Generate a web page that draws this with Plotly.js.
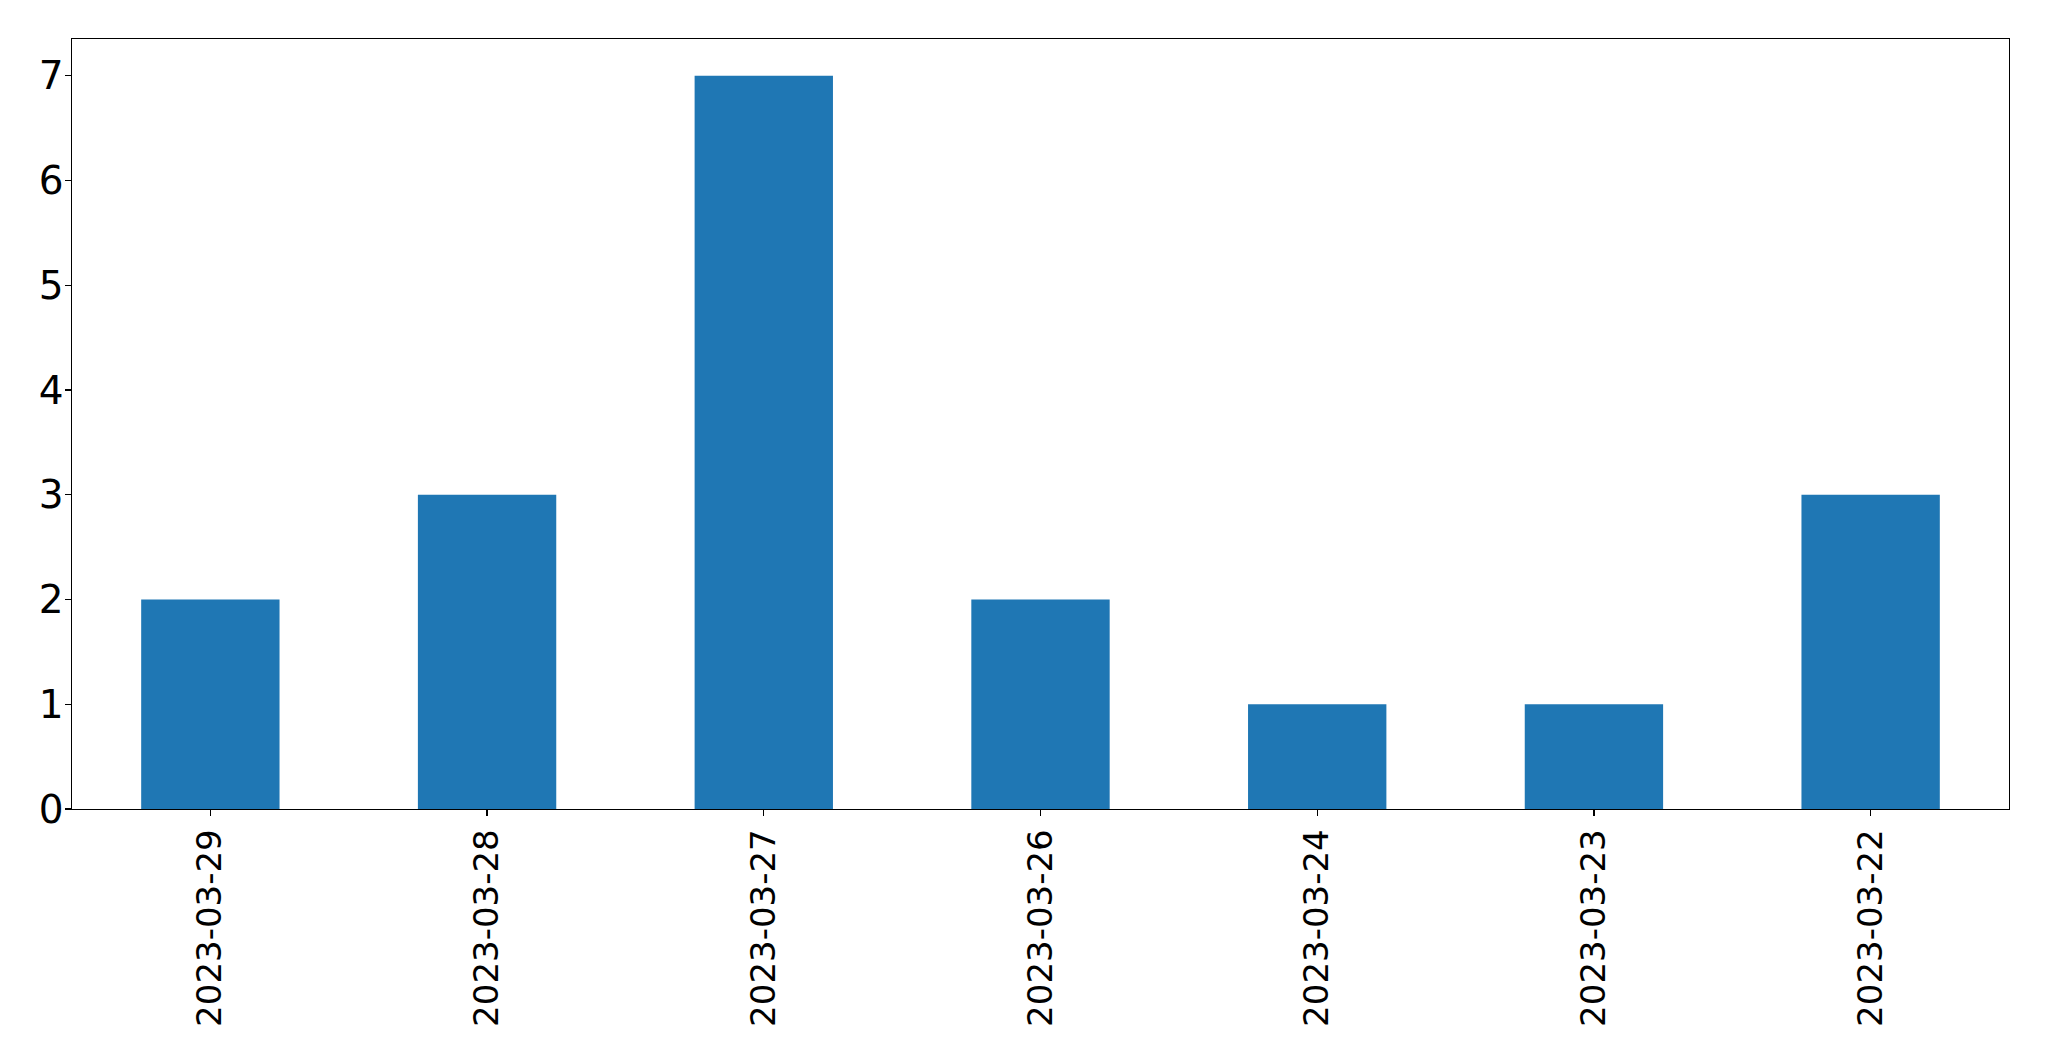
<!DOCTYPE html>
<html>
<head>
<meta charset="utf-8">
<script src="https://cdn.plot.ly/plotly-3.0.1.min.js"></script>
<style>html,body{margin:0;padding:0;background:#fff;}#chart{width:2049px;height:1061px;}</style>
</head>
<body>
<div id="chart"></div>
<script>
const dates = ["2023-03-29", "2023-03-28", "2023-03-27", "2023-03-26", "2023-03-24", "2023-03-23", "2023-03-22"];
const counts = [2, 3, 7, 2, 1, 1, 3];
const yTicks = [0, 1, 2, 3, 4, 5, 6, 7];

const trace = {
  type: 'bar',
  x: dates,
  y: counts,
  marker: {color: '#1f77b4', line: {width: 0}},
  width: 0.5,
  hoverinfo: 'x+y'
};

const xFont = {family: 'DejaVu Sans, sans-serif', size: 34, color: '#000'};
const yFont = {family: 'DejaVu Sans, sans-serif', size: 39, color: '#000'};

const layout = {
  width: 2049,
  height: 1061,
  paper_bgcolor: '#fff',
  plot_bgcolor: '#fff',
  margin: {l: 72.3, r: 39.7, t: 39.3, b: 252, pad: 0},
  showlegend: false,
  font: xFont,
  xaxis: {
    type: 'category',
    range: [-0.5, 6.5],
    tickangle: -90,
    showline: true, mirror: true, linecolor: '#000', linewidth: 1.2,
    showgrid: false, zeroline: false,
    ticks: 'outside', ticklen: 5.5, tickwidth: 1.2, tickcolor: '#000',
    tickfont: xFont
  },
  yaxis: {
    range: [0, 7.35],
    tickmode: 'array', tickvals: yTicks, ticktext: yTicks.map(String),
    showline: true, mirror: true, linecolor: '#000', linewidth: 1.2,
    showgrid: false, zeroline: false,
    ticks: 'outside', ticklen: 5.5, tickwidth: 1.2, tickcolor: '#000',
    ticklabelstandoff: -6,
    tickfont: yFont
  }
};

Plotly.newPlot('chart', [trace], layout, {displayModeBar: false, staticPlot: true});
</script>
</body>
</html>
